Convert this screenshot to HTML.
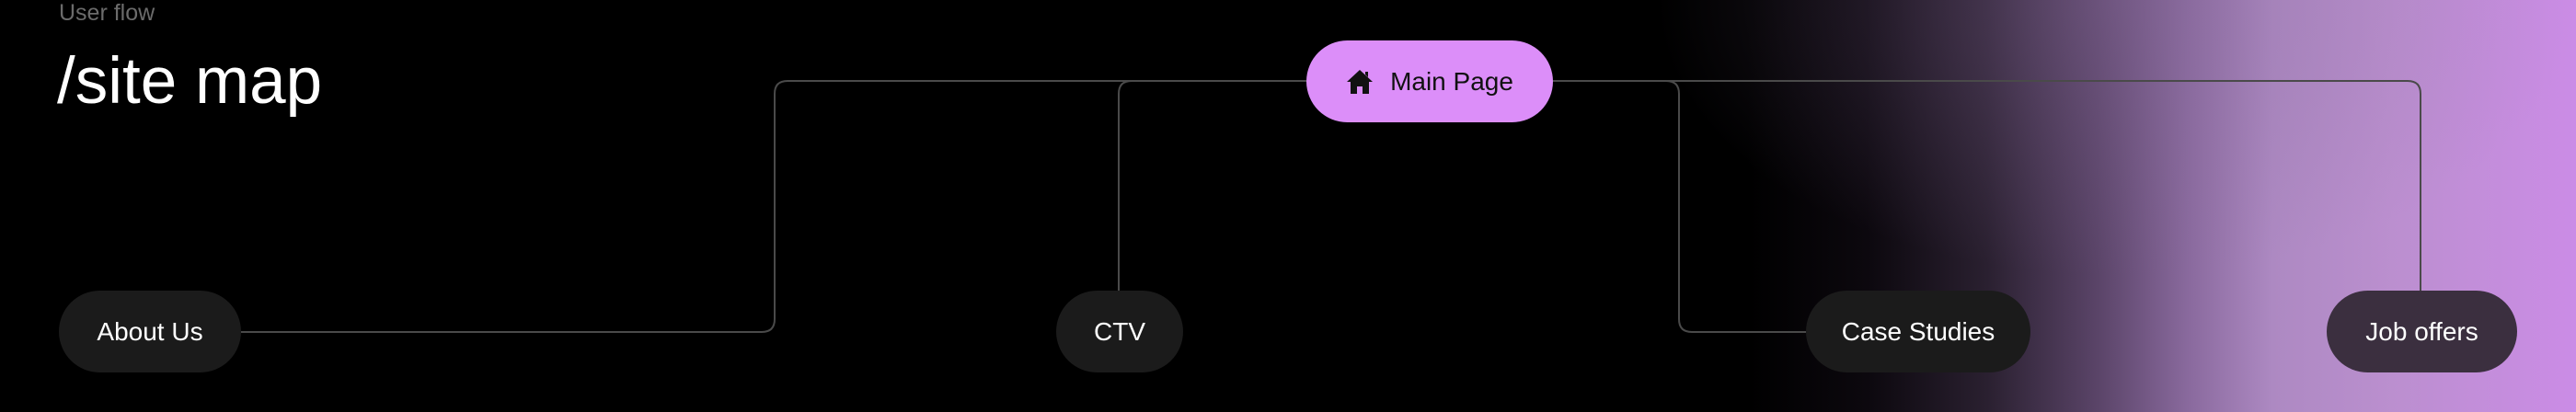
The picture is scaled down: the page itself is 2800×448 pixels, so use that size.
<!DOCTYPE html>
<html><head><meta charset="utf-8"><style>
*{margin:0;padding:0;box-sizing:border-box}
body{width:2800px;height:448px;overflow:hidden;background:#000;position:relative;font-family:"Liberation Sans",sans-serif}
.bg{position:absolute;inset:0;background:linear-gradient(90deg,#000 0px,#000 1900px,#0c080e 2030px,#2a2030 2160px,#5a4468 2280px,#8a6a9e 2380px,#ad89c2 2470px,#bb8fcf 2600px,#cb8ce6 2800px)}
.bg2{position:absolute;inset:0;background:radial-gradient(ellipse 500px 300px at 2300px 0px,rgba(140,110,160,0.35),rgba(0,0,0,0))}
.t1{position:absolute;left:64px;top:0px;font-size:25px;color:#6b6b6b}
.t2{position:absolute;left:62px;top:48px;font-size:71px;color:#fff}
.pill{position:absolute;border-radius:45px;display:flex;align-items:center;justify-content:center;font-size:28px;color:#fff;height:89px}
svg{position:absolute;left:0;top:0}
</style></head><body>
<div class="bg"></div><div class="bg2"></div>
<div class="t1">User flow</div>
<div class="t2">/site map</div>
<svg width="2800" height="448">
<g fill="none" stroke="#4a4a4a" stroke-width="2">
<path d="M262 361 H828 Q842 361 842 347 V102 Q842 88 856 88 H1420"/>
<path d="M1216 316 V102 Q1216 88 1230 88 H1420"/>
<path d="M1688 88 H1811 Q1825 88 1825 102 V347 Q1825 361 1839 361 H1963"/>
<path d="M1688 88 H2617 Q2631 88 2631 102 V316"/>
</g>
</svg>
<div class="pill" style="left:1420px;top:44px;width:268px;background:#dc8ef9;color:#111">
<svg style="position:static;margin-right:18px" width="30" height="28" viewBox="0 0 30 28"><path d="M15 1 L29 14 H25 V27 H18 V19 H12 V27 H5 V14 H1 Z M21 3 H24 V9 L21 6Z" fill="#111"/></svg>Main Page</div>
<div class="pill" style="left:64px;top:316px;width:198px;background:#1b1b1b">About Us</div>
<div class="pill" style="left:1148px;top:316px;width:138px;background:#1b1b1b">CTV</div>
<div class="pill" style="left:1963px;top:316px;width:244px;background:#1b1b1b">Case Studies</div>
<div class="pill" style="left:2529px;top:316px;width:207px;background:#3b2f3f">Job offers</div>
</body></html>
